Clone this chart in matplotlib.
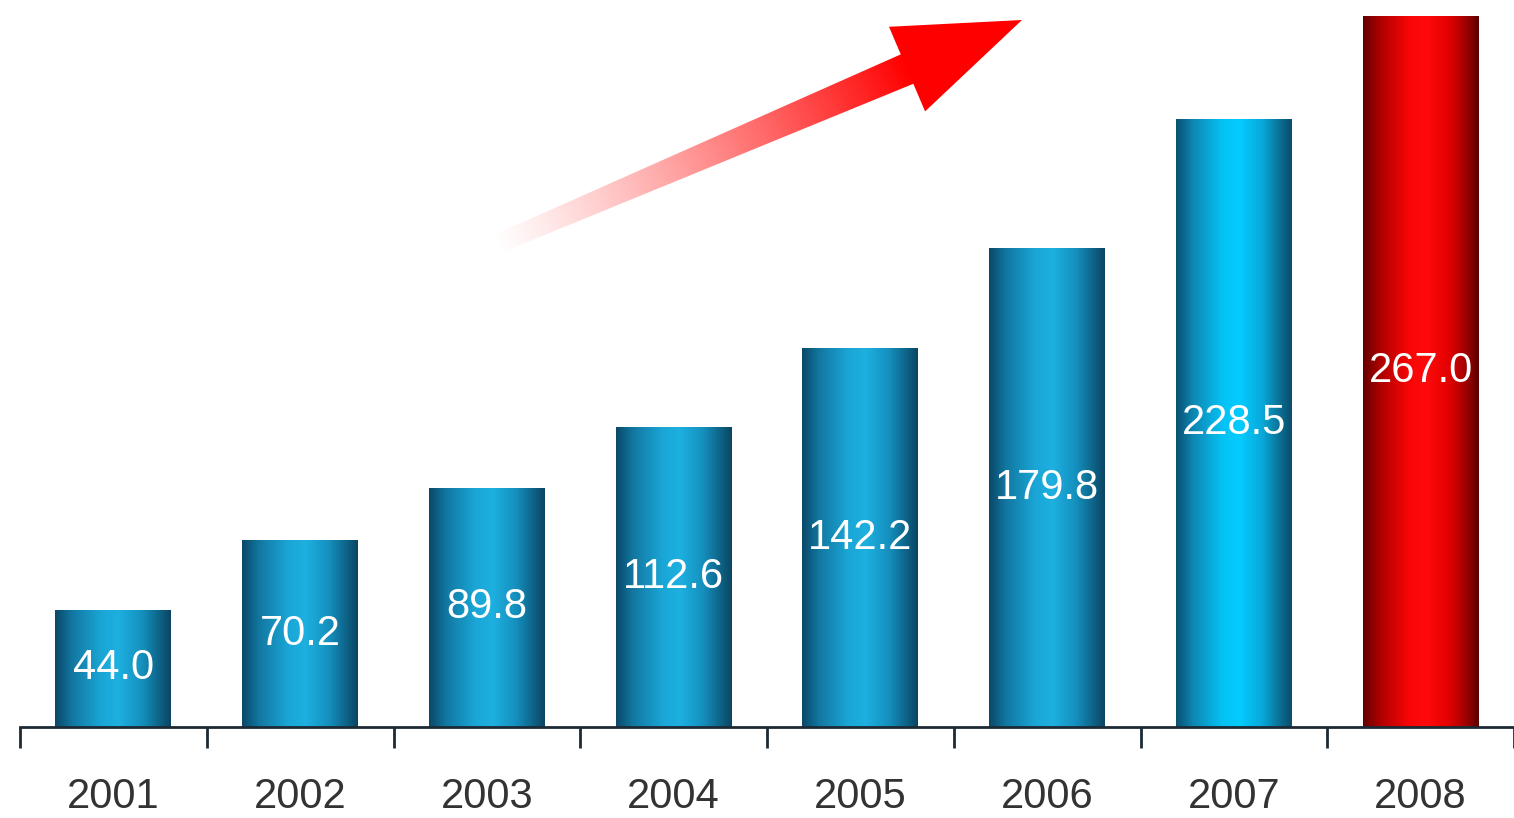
import matplotlib
matplotlib.use("Agg")
import matplotlib.pyplot as plt
import numpy as np
from matplotlib.colors import LinearSegmentedColormap
from matplotlib.patches import Polygon

years = ["2001", "2002", "2003", "2004", "2005", "2006", "2007", "2008"]
values = [44.0, 70.2, 89.8, 112.6, 142.2, 179.8, 228.5, 267.0]

plt.rcParams["font.family"] = ["Liberation Sans", "DejaVu Sans"]

W, H = 1514, 818
fig = plt.figure(figsize=(W / 100, H / 100), dpi=100)
fig.patch.set_facecolor("white")

ax = fig.add_axes([20 / W, 91 / H, 1 - 20 / W, 1 - 91 / H])
ax.set_xlim(-0.5, 7.5)
ax.set_ylim(0, 273)

# horizontal shading profiles for the cylinders
blue_cmap = LinearSegmentedColormap.from_list(
    "blue", [(0, "#0a4868"), (0.15, "#1278a2"), (0.4, "#1aa6d6"),
             (0.55, "#1db0e0"), (0.75, "#1590be"), (0.9, "#0e6488"), (1, "#0a4562")])
cyan_cmap = LinearSegmentedColormap.from_list(
    "cyan", [(0, "#0a5070"), (0.15, "#0e88b4"), (0.4, "#05c2f4"),
             (0.55, "#04ccff"), (0.75, "#08a8d8"), (0.9, "#0c6e92"), (1, "#0a4c6a")])
red_cmap = LinearSegmentedColormap.from_list(
    "red", [(0, "#640000"), (0.15, "#b00000"), (0.4, "#f80606"),
            (0.55, "#ff0a0a"), (0.75, "#e00000"), (0.9, "#9a0000"), (1, "#5a0000")])
cmaps = [blue_cmap] * 6 + [cyan_cmap, red_cmap]

x = np.arange(len(years))
bars = ax.bar(x, values, width=0.62, color="none", edgecolor="none", zorder=2)

grad = np.linspace(0, 1, 256).reshape(1, -1)
for bar, cm, v in zip(bars, cmaps, values):
    x0, w, h = bar.get_x(), bar.get_width(), bar.get_height()
    im = ax.imshow(grad, extent=[x0, x0 + w, 0, h], aspect="auto",
                   cmap=cm, zorder=2, interpolation="bicubic")
    im.set_clip_path(bar)
    ax.text(x0 + w / 2, h / 2, f"{v:.1f}", ha="center", va="center",
            color="white", fontsize=30, zorder=3)

ax.set_xticks(x)
ax.set_xticklabels(years, fontsize=30, color="#333333")
ax.set_xticks(np.arange(-0.5, 8.0, 1.0), minor=True)
ax.tick_params(axis="x", which="major", length=0, pad=36)
ax.tick_params(axis="x", which="minor", length=15, width=2, color="#1c2a36")
ax.set_yticks([])
for s in ["top", "right", "left"]:
    ax.spines[s].set_visible(False)
ax.spines["bottom"].set_color("#1c2a36")
ax.spines["bottom"].set_linewidth(2)
ax.spines["bottom"].set_zorder(4)
ax.set_xlim(-0.5, 7.5)

# decorative trend arrow drawn on a pixel-space overlay
ov = fig.add_axes([0, 0, 1, 1], zorder=5)
ov.set_xlim(0, W)
ov.set_ylim(H, 0)
ov.axis("off")
ov.patch.set_alpha(0)

tail = np.array([495.0, 245.0])
tip = np.array([1022.0, 20.0])
u = (tip - tail) / np.linalg.norm(tip - tail)
n = np.array([-u[1], u[0]])
base = tip - u * 125
hw, hh = 16, 46
pts = [tail + n * hw * 0.6, base + n * hw, base + n * hh, tip,
       base - n * hh, base - n * hw, tail - n * hw * 0.6]
arrow = Polygon(pts, closed=True, facecolor="none", edgecolor="none")
ov.add_patch(arrow)

gx, gy = np.meshgrid(np.arange(480, 1040), np.arange(0, 270))
t = ((gx - tail[0]) * u[0] + (gy - tail[1]) * u[1]) / np.linalg.norm(base - tail)
t = np.clip(t, 0, 1)
rgba = np.zeros(gx.shape + (4,))
rgba[..., 0] = 1.0
rgba[..., 1] = 0.15 * (1 - t)
rgba[..., 2] = 0.15 * (1 - t)
rgba[..., 3] = np.clip(t ** 1.1, 0, 1)
aim = ov.imshow(rgba, extent=[480, 1040, 270, 0], aspect="auto", zorder=5)
aim.set_clip_path(arrow)

fig.savefig("out.png", dpi=100, facecolor="white")
